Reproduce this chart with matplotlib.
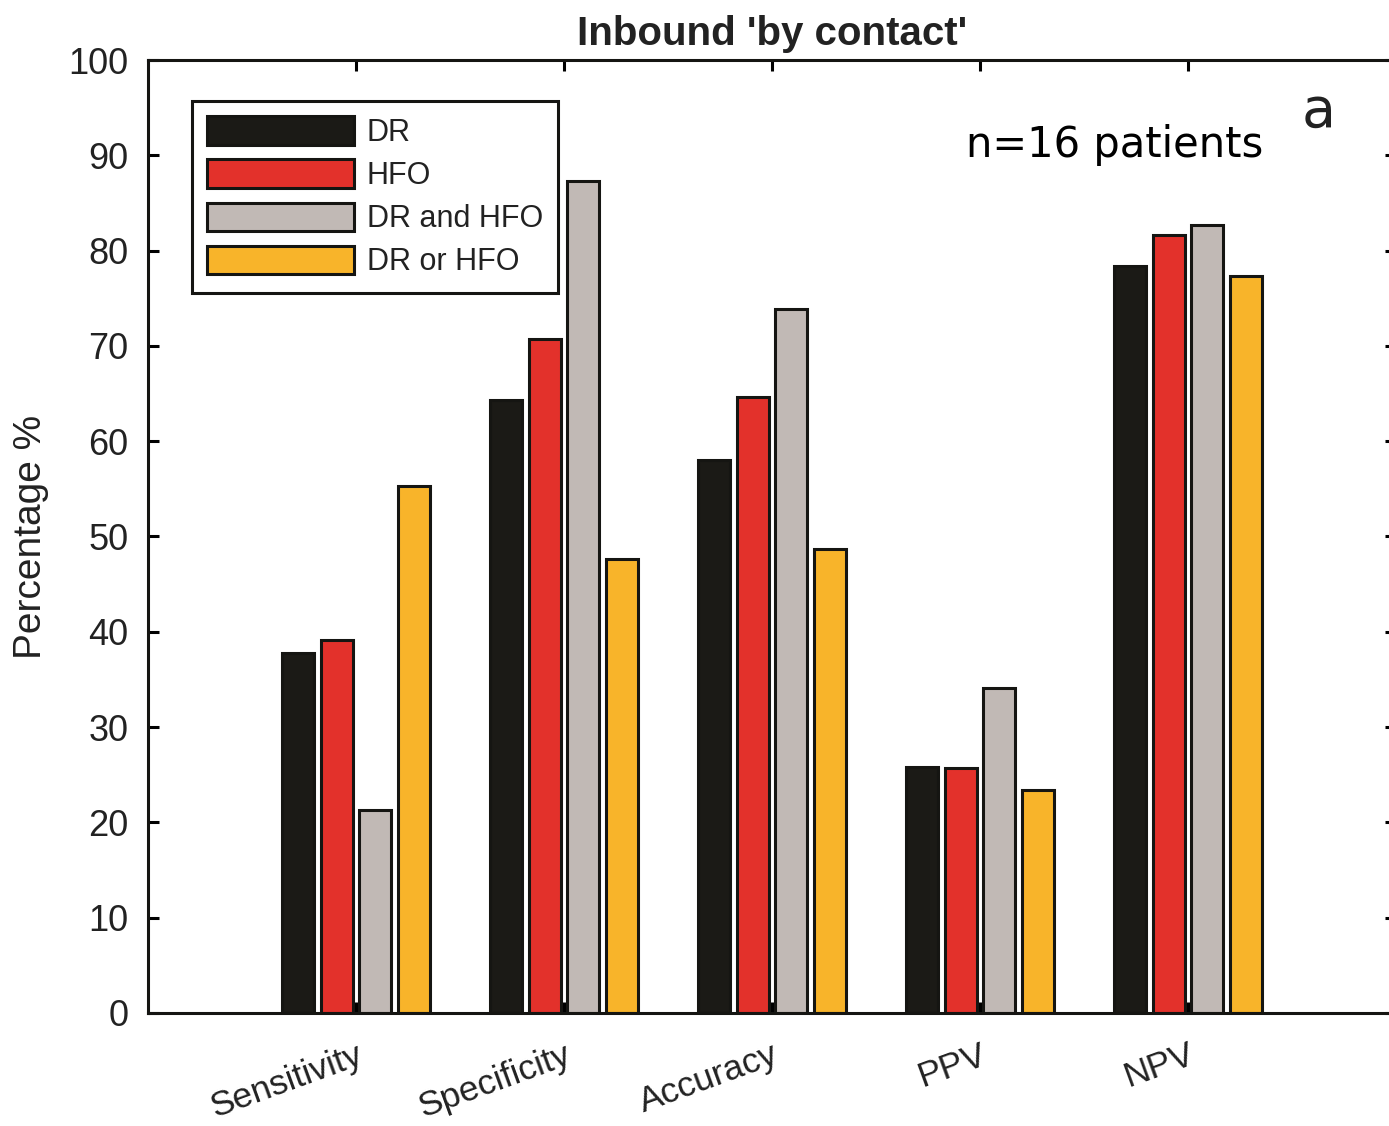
import matplotlib
matplotlib.use("Agg")
import matplotlib.pyplot as plt
import numpy as np

# metric groups and the four detection rules
categories = ["Sensitivity", "Specificity", "Accuracy", "PPV", "NPV"]
series_names = ["DR", "HFO", "DR and HFO", "DR or HFO"]
dr = [37.8, 64.3, 58.0, 25.8, 78.4]
hfo = [39.1, 70.7, 64.6, 25.7, 81.6]
dr_and_hfo = [21.3, 87.3, 73.9, 34.1, 82.7]
dr_or_hfo = [55.3, 47.6, 48.7, 23.4, 77.3]

colors = ["#1b1a16", "#e3312b", "#c1b9b5", "#f8b42a"]

plt.rcParams["font.family"] = ["Liberation Sans", "DejaVu Sans"]

fig = plt.figure(figsize=(13.89, 11.26), dpi=100)
ax = fig.add_axes([0.1066, 0.1004, 0.8984, 0.8463])

x = np.arange(1, len(categories) + 1)
pitch = 0.185
width = 0.155
for i, (vals, name, c) in enumerate(zip([dr, hfo, dr_and_hfo, dr_or_hfo], series_names, colors)):
    ax.bar(x + (i - 1.5) * pitch, vals, width, color=c, edgecolor="#151512",
           linewidth=2.2, label=name, zorder=2)

ax.set_xlim(0, 6)
ax.set_ylim(0, 100)
ax.set_yticks(np.arange(0, 101, 10))
ax.set_xticks(x)
ax.set_xticklabels(categories, rotation=20, ha="right", va="top",
                   rotation_mode="anchor", fontsize=25.5, color="#222222")
ax.tick_params(axis="both", direction="in", length=8, width=2.2,
               top=True, right=True, labelcolor="#222222")
ax.tick_params(axis="y", pad=14, labelsize=26)
ax.tick_params(axis="x", pad=18)
for s in ax.spines.values():
    s.set_linewidth(2.2)
    s.set_color("#151512")

ax.set_ylabel("Percentage %", fontsize=28, color="#222222", labelpad=14)
ax.set_title("Inbound 'by contact'", fontsize=29, fontweight="bold",
             color="#222222", pad=11)

leg = ax.legend(loc="upper left", bbox_to_anchor=(192 / 1389, 1 - 101 / 1126),
                bbox_transform=fig.transFigure, borderaxespad=0, fontsize=22,
                handlelength=4.8, handleheight=1.05, labelspacing=0.38,
                handletextpad=0.42, borderpad=0.5, fancybox=False,
                framealpha=1, edgecolor="#151512")
leg.get_frame().set_linewidth(2.2)
for t in leg.get_texts():
    t.set_color("#222222")

fig.text(966 / 1389, 1 - 157 / 1126, "n=16 patients", family="DejaVu Sans",
         fontsize=30, color="black", ha="left", va="baseline")
fig.text(1302 / 1389, 1 - 127 / 1126, "a", family="DejaVu Sans",
         fontsize=40, color="#222222", ha="left", va="baseline")

fig.savefig("out.png", dpi=100)
